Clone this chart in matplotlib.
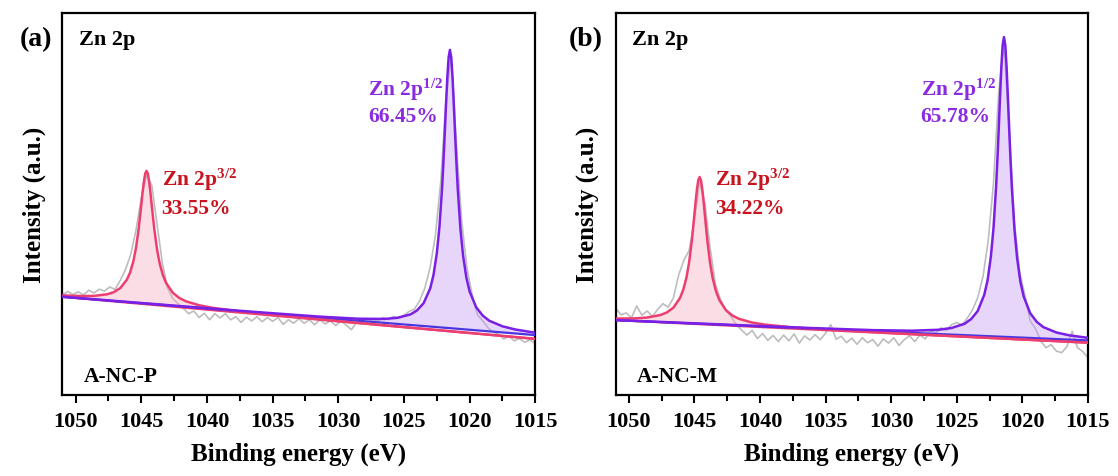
import numpy as np
import matplotlib
matplotlib.use("Agg")
import matplotlib.pyplot as plt
from matplotlib.ticker import MultipleLocator

plt.rcParams['font.family'] = ['Liberation Serif', 'DejaVu Serif']
plt.rcParams['font.weight'] = 'bold'
plt.rcParams['mathtext.fontset'] = 'custom'
plt.rcParams['mathtext.rm'] = 'Liberation Serif:bold'
plt.rcParams['mathtext.bf'] = 'Liberation Serif:bold'
plt.rcParams['mathtext.it'] = 'Liberation Serif:bold'

# Messdaten (Rohspektrum), Energie in eV, Intensitaet in willk. Einheiten
energie = np.round(np.linspace(1051.0, 1015.0, 91), 1)

roh_p = [26.3, 27.2, 26.4, 27.1, 26.3, 27.5, 26.8, 27.8, 27.3, 28.4,
         27.7, 30.1, 33.0, 36.9, 43.3, 51.7, 57.6, 55.0, 44.8, 34.7,
         28.1, 25.3, 24.0, 22.8, 21.4, 22.1, 20.4, 21.5, 19.8, 21.4,
         20.3, 21.4, 19.8, 20.6, 19.1, 20.5, 19.5, 20.6, 19.3, 20.4,
         19.4, 20.4, 18.6, 19.8, 18.9, 20.1, 18.9, 19.8, 18.5, 19.8,
         18.7, 19.5, 18.3, 19.5, 18.4, 17.2, 19.2, 19.8, 19.1, 19.9,
         19.4, 20.4, 19.8, 20.7, 20.2, 21.0, 22.0, 22.6, 24.8, 28.2,
         33.6, 42.0, 55.9, 77.8, 89.1, 65.5, 45.4, 33.3, 26.2, 21.1,
         19.5, 17.7, 16.5, 16.0, 14.8, 15.5, 14.3, 14.9, 13.9, 14.6,
         13.6]

roh_m = [22.9, 21.1, 21.6, 20.3, 23.4, 21.0, 22.1, 20.7, 22.5, 24.0,
         23.1, 25.5, 31.5, 35.4, 37.9, 45.8, 55.8, 50.2, 38.6, 29.1,
         25.0, 22.3, 20.6, 18.5, 17.1, 15.8, 17.0, 14.9, 16.2, 14.4,
         15.7, 14.1, 15.8, 14.3, 16.1, 13.7, 15.6, 14.5, 15.9, 14.6,
         16.3, 18.5, 14.7, 15.5, 13.8, 15.0, 13.4, 15.1, 13.8, 14.6,
         12.9, 14.8, 13.7, 15.1, 13.1, 14.6, 15.6, 14.1, 15.8, 14.8,
         16.9, 16.3, 17.7, 17.0, 18.5, 19.1, 18.4, 20.2, 22.4, 25.6,
         31.1, 40.5, 55.5, 79.4, 92.3, 69.3, 45.2, 32.2, 26.1, 19.5,
         17.5, 14.3, 12.5, 13.3, 11.6, 11.2, 12.8, 16.8, 12.5, 11.5,
         9.9]

# Untergrund (Endpunkte bei 1051 und 1015 eV)
bg_grenzen = [1051.0, 1015.0]
bg_blau_p = [25.8, 15.8]
bg_rot_p = [25.8, 14.8]
bg_blau_m = [19.7, 14.4]
bg_rot_m = [19.7, 13.8]

# Fit Zn 2p3/2 (Intensitaet ueber Untergrund)
e_32_p = [1051.0, 1049.6, 1048.6, 1047.6, 1047.1, 1046.6, 1046.1, 1045.85, 1045.6, 1045.4,
          1045.2, 1045.1, 1045.0, 1044.9, 1044.8, 1044.7, 1044.6, 1044.5, 1044.4, 1044.3,
          1044.2, 1044.1, 1044.0, 1043.8, 1043.6, 1043.35, 1043.1, 1042.6, 1042.1, 1041.6,
          1040.6, 1039.6, 1037.6, 1034.6, 1029.6, 1024.6, 1015.0]
fit_32_p = [0.39, 0.63, 0.98, 1.71, 2.41, 3.63, 5.97, 7.96, 11.0, 14.6,
            19.6, 22.7, 25.9, 29.2, 32.1, 34.2, 34.9, 34.2, 32.1, 29.2,
            25.9, 22.7, 19.6, 14.6, 11.0, 7.96, 5.97, 3.63, 2.41, 1.71,
            0.98, 0.63, 0.32, 0.16, 0.07, 0.04, 0.02]
fit_32_m = [0.43, 0.69, 1.08, 1.89, 2.66, 4.0, 6.58, 8.78, 12.1, 16.1,
            21.6, 25.0, 28.6, 32.2, 35.4, 37.7, 38.5, 37.7, 35.4, 32.2,
            28.6, 25.0, 21.6, 16.1, 12.1, 8.78, 6.58, 4.0, 2.66, 1.89,
            1.08, 0.69, 0.35, 0.18, 0.08, 0.04, 0.02]

# Fit Zn 2p1/2
e_12_p = [1051.0, 1041.5, 1036.5, 1031.5, 1028.5, 1026.5, 1025.5, 1024.5, 1024.0, 1023.5,
          1023.0, 1022.75, 1022.5, 1022.3, 1022.1, 1022.0, 1021.9, 1021.8, 1021.7, 1021.6,
          1021.5, 1021.4, 1021.3, 1021.2, 1021.1, 1021.0, 1020.9, 1020.7, 1020.5, 1020.25,
          1020.0, 1019.5, 1019.0, 1018.5, 1017.5, 1016.5, 1015.0]
fit_12_p = [0.03, 0.07, 0.12, 0.26, 0.53, 1.03, 1.6, 2.77, 3.97, 6.01,
            10.0, 13.6, 19.3, 26.2, 36.4, 43.0, 50.4, 58.2, 65.5, 70.8,
            72.8, 70.8, 65.5, 58.2, 50.4, 43.0, 36.4, 26.2, 19.3, 13.6,
            10.0, 6.01, 3.97, 2.77, 1.6, 1.03, 0.61]
e_12_m = [1051.0, 1041.4, 1036.4, 1031.4, 1028.4, 1026.4, 1025.4, 1024.4, 1023.9, 1023.4,
          1022.9, 1022.65, 1022.4, 1022.2, 1022.0, 1021.9, 1021.8, 1021.7, 1021.6, 1021.5,
          1021.4, 1021.3, 1021.2, 1021.1, 1021.0, 1020.9, 1020.8, 1020.6, 1020.4, 1020.15,
          1019.9, 1019.4, 1018.9, 1018.4, 1017.4, 1016.4, 1015.0]
fit_12_m = [0.03, 0.08, 0.13, 0.28, 0.57, 1.11, 1.72, 2.98, 4.28, 6.47,
            10.8, 14.6, 20.8, 28.2, 39.2, 46.3, 54.3, 62.7, 70.5, 76.3,
            78.4, 76.3, 70.5, 62.7, 54.3, 46.3, 39.2, 28.2, 20.8, 14.6,
            10.8, 6.47, 4.28, 2.98, 1.72, 1.11, 0.68]

anteile_32 = ['33.55%', '34.22%']
anteile_12 = ['66.45%', '65.78%']
proben = ['A-NC-P', 'A-NC-M']
panels = ['(a)', '(b)']

# Farben
c_roh = '#bdbdbd'
c_rot = '#ec3f70'
c_lila = '#7a1fe6'
c_blau = '#4a36e0'
c_text_rot = '#c8141e'
c_text_lila = '#8a2be2'

fig = plt.figure(figsize=(11.18, 4.77), dpi=100)
ax_pos = [[0.0559, 0.1688, 0.4229, 0.8015], [0.5507, 0.1688, 0.4224, 0.8015]]

daten = [
    (roh_p, bg_blau_p, bg_rot_p, e_32_p, fit_32_p, e_12_p, fit_12_p),
    (roh_m, bg_blau_m, bg_rot_m, e_32_p, fit_32_m, e_12_m, fit_12_m),
]

for i, (roh, bgb, bgr, e32, f32, e12, f12) in enumerate(daten):
    ax = fig.add_axes(ax_pos[i])
    e32 = np.array(e32)
    e12 = np.array(e12)
    # Untergrund unter den Peaks (Gerade)
    bg32 = np.interp(e32, bg_grenzen[::-1], bgr[::-1])
    bg12 = np.interp(e12, bg_grenzen[::-1], bgb[::-1])
    y32 = bg32 + np.array(f32)
    y12 = bg12 + np.array(f12)

    ax.plot(energie, roh, color=c_roh, lw=1.2, zorder=1)
    ax.fill_between(e32, bg32, y32, color='#f6adc0', alpha=0.4, lw=0, zorder=2)
    ax.fill_between(e12, bg12, y12, color='#c39af2', alpha=0.4, lw=0, zorder=2)
    ax.plot(bg_grenzen, bgr, color=c_rot, lw=1.6, zorder=3)
    ax.plot(bg_grenzen, bgb, color=c_blau, lw=1.6, zorder=4)
    ax.plot(e32, y32, color=c_rot, lw=1.8, zorder=5)
    ax.plot(e12, y12, color=c_lila, lw=1.8, zorder=5)

    ax.set_xlim(1051.0, 1015.0)
    ax.set_ylim(0, 100)
    ax.xaxis.set_major_locator(MultipleLocator(5))
    ax.xaxis.set_minor_locator(MultipleLocator(2.5))
    ax.set_yticks([])
    ax.tick_params(axis='x', which='major', direction='out', length=6, width=1.5,
                   labelsize=16, pad=5)
    ax.tick_params(axis='x', which='minor', direction='out', length=4, width=1.5)
    for s in ax.spines.values():
        s.set_linewidth(1.6)

    ax.set_xlabel('Binding energy (eV)', fontsize=18, fontweight='bold', labelpad=8)
    ax.set_ylabel('Intensity (a.u.)', fontsize=18, fontweight='bold', labelpad=12)

    # Beschriftungen
    ax.text(0.035, 0.932, 'Zn 2p', transform=ax.transAxes, fontsize=16,
            fontweight='bold', va='center', ha='left')
    ax.text(0.045, 0.052, proben[i], transform=ax.transAxes, fontsize=15.5,
            fontweight='bold', va='center', ha='left')
    ax.text(1043.45, 56.6, r'Zn 2p$^{\mathregular{3/2}}$', fontsize=15.5,
            color=c_text_rot, va='center', ha='left')
    ax.text(1043.45, 49.0, anteile_32[i], fontsize=15.5, fontweight='bold',
            color=c_text_rot, va='center', ha='left')
    ax.text(1027.75, 80.3, r'Zn 2p$^{\mathregular{1/2}}$', fontsize=15.5,
            color=c_text_lila, va='center', ha='left')
    ax.text(1027.75, 73.0, anteile_12[i], fontsize=15.5, fontweight='bold',
            color=c_text_lila, va='center', ha='left')

fig.text(0.018, 0.916, panels[0], fontsize=20, fontweight='bold', va='center', ha='left')
fig.text(0.509, 0.916, panels[1], fontsize=20, fontweight='bold', va='center', ha='left')

plt.savefig('out.png', dpi=100)
